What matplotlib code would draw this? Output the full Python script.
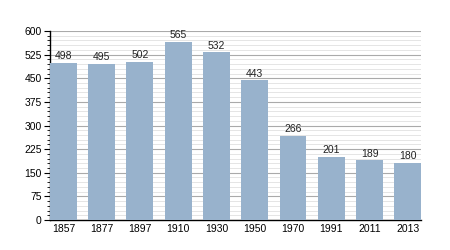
import matplotlib.pyplot as plt
from matplotlib.ticker import MultipleLocator

annees = ["1857", "1877", "1897", "1910", "1930", "1950", "1970", "1991", "2011", "2013"]
population = [498, 495, 502, 565, 532, 443, 266, 201, 189, 180]

plt.rcParams["font.family"] = ["Liberation Sans", "DejaVu Sans"]

fig = plt.figure(figsize=(4.5, 2.5), dpi=100)
ax = fig.add_axes([0.111, 0.12, 0.825, 0.756])

x = range(len(annees))
ax.bar(x, population, width=0.7, color="#98b2cc", zorder=3)
for i, v in enumerate(population):
    ax.text(i, v + 6, str(v), ha="center", va="bottom", fontsize=7.5, color="#222222", zorder=4)

ax.set_xlim(-0.35, len(annees) - 0.65)
ax.set_ylim(0, 600)
ax.yaxis.set_major_locator(MultipleLocator(75))
ax.yaxis.set_minor_locator(MultipleLocator(15))
ax.grid(axis="y", which="major", color="#aaaaaa", linewidth=0.8, zorder=1)
ax.grid(axis="y", which="minor", color="#e0e0e0", linewidth=0.6, zorder=0)

ax.set_xticks(list(x))
ax.set_xticklabels(annees)
ax.tick_params(axis="x", length=0, labelsize=7.5, pad=3)
ax.tick_params(axis="y", which="major", length=4, width=0.8, labelsize=7.5, pad=2)
ax.tick_params(axis="y", which="minor", length=2, width=0.6)

ax.spines["top"].set_visible(False)
ax.spines["right"].set_visible(False)
ax.spines["left"].set_linewidth(1)
ax.spines["bottom"].set_linewidth(1)

plt.savefig("out.png", dpi=100)
